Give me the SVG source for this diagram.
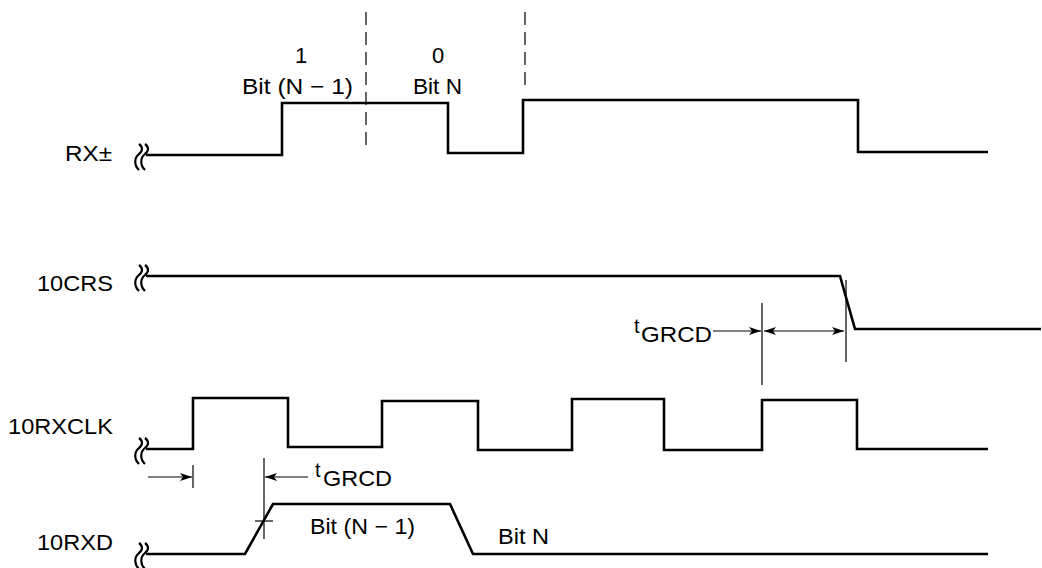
<svg xmlns="http://www.w3.org/2000/svg" width="1042" height="568" viewBox="0 0 1042 568">
<defs>
<marker id="ah" viewBox="0 0 12 8" refX="12" refY="4" markerWidth="12" markerHeight="8" markerUnits="userSpaceOnUse" orient="auto-start-reverse">
<path d="M0,0 L12,4 L0,8 L3,4 Z" fill="#000"/>
</marker>
<path id="sq" d="M2,-13 C6,-10 6,-6 2,-3 C-3,1 -3,8 2,13 M8,-13 C12,-10 12,-6 8,-3 C3,1 3,8 8,13"/>
</defs>
<style>
text{font-family:"Liberation Sans",Arial,Helvetica,sans-serif;fill:#000}
.lbl{font-size:22px}
.sub{font-size:20px}
.sig{fill:none;stroke:#000;stroke-width:2.6;stroke-linejoin:miter}
.thin{fill:none;stroke:#000;stroke-width:1.2}
.dash{fill:none;stroke:#000;stroke-width:1.2;stroke-dasharray:13 7}
.brk{fill:none;stroke:#000;stroke-width:2.2}
.arr{fill:none;stroke:#000;stroke-width:1.2;marker-end:url(#ah)}
.arr2{fill:none;stroke:#000;stroke-width:1.2;marker-end:url(#ah);marker-start:url(#ah)}
</style>
<rect width="1042" height="568" fill="#fff"/>

<g id="rx">
<text class="lbl" x="65" y="161" textLength="47" lengthAdjust="spacingAndGlyphs">RX±</text>
<use href="#sq" x="137" y="157" class="brk"/>
<path class="sig" d="M146,155 H282 V103 H448 V153 H523 V100 H858 V152 H988"/>
</g>

<g id="bitlabels">
<text class="lbl" x="301" y="63" text-anchor="middle">1</text>
<text class="lbl" x="242" y="94" textLength="111" lengthAdjust="spacingAndGlyphs">Bit (N − 1)</text>
<text class="lbl" x="438" y="63" text-anchor="middle">0</text>
<text class="lbl" x="413" y="94" textLength="49" lengthAdjust="spacingAndGlyphs">Bit N</text>
</g>

<g id="crs">
<text class="lbl" x="37" y="291" textLength="76" lengthAdjust="spacingAndGlyphs">10CRS</text>
<use href="#sq" x="137" y="278" class="brk"/>
<path class="sig" d="M146,276 H840 L855,329 H1041"/>
</g>

<g id="rxclk">
<text class="lbl" x="8" y="434" textLength="105" lengthAdjust="spacingAndGlyphs">10RXCLK</text>
<use href="#sq" x="137" y="451" class="brk"/>
<path class="sig" d="M146,449 H193 V398 H288 V447 H382 V401 H478 V450 H572 V399 H664 V450 H762 V400 H857 V449 H988"/>
</g>

<g id="rxd">
<text class="lbl" x="37" y="550" textLength="76" lengthAdjust="spacingAndGlyphs">10RXD</text>
<use href="#sq" x="137" y="556" class="brk"/>
<path class="sig" d="M146,554 H245 L273,504 H450 L473,554 H988"/>
<text class="lbl" x="310" y="534" textLength="105" lengthAdjust="spacingAndGlyphs">Bit (N − 1)</text>
<text class="lbl" x="498" y="544" textLength="51" lengthAdjust="spacingAndGlyphs">Bit N</text>
</g>

<g id="connectors">
<line class="dash" x1="366" y1="12" x2="366" y2="146"/>
<line class="dash" x1="525" y1="12" x2="525" y2="92"/>
<line class="thin" x1="762" y1="303" x2="762" y2="385"/>
<line class="thin" x1="846" y1="280" x2="846" y2="362"/>
<line class="arr" x1="713" y1="331" x2="761" y2="331"/>
<line class="arr2" x1="764" y1="331" x2="844" y2="331"/>
<line class="thin" x1="193" y1="465" x2="193" y2="488"/>
<line class="arr" x1="148" y1="477" x2="192" y2="477"/>
<line class="thin" x1="264" y1="458" x2="264" y2="539"/>
<line class="thin" x1="255" y1="521" x2="273" y2="521"/>
<line class="arr" x1="308" y1="477" x2="265" y2="477"/>
</g>

<g id="tgrcd1">
<text class="sub" x="634" y="333">t</text>
<text class="lbl" x="641" y="342" textLength="71" lengthAdjust="spacingAndGlyphs">GRCD</text>
</g>
<g id="tgrcd2">
<text class="sub" x="315" y="477">t</text>
<text class="lbl" x="323" y="486" textLength="69" lengthAdjust="spacingAndGlyphs">GRCD</text>
</g>
</svg>
